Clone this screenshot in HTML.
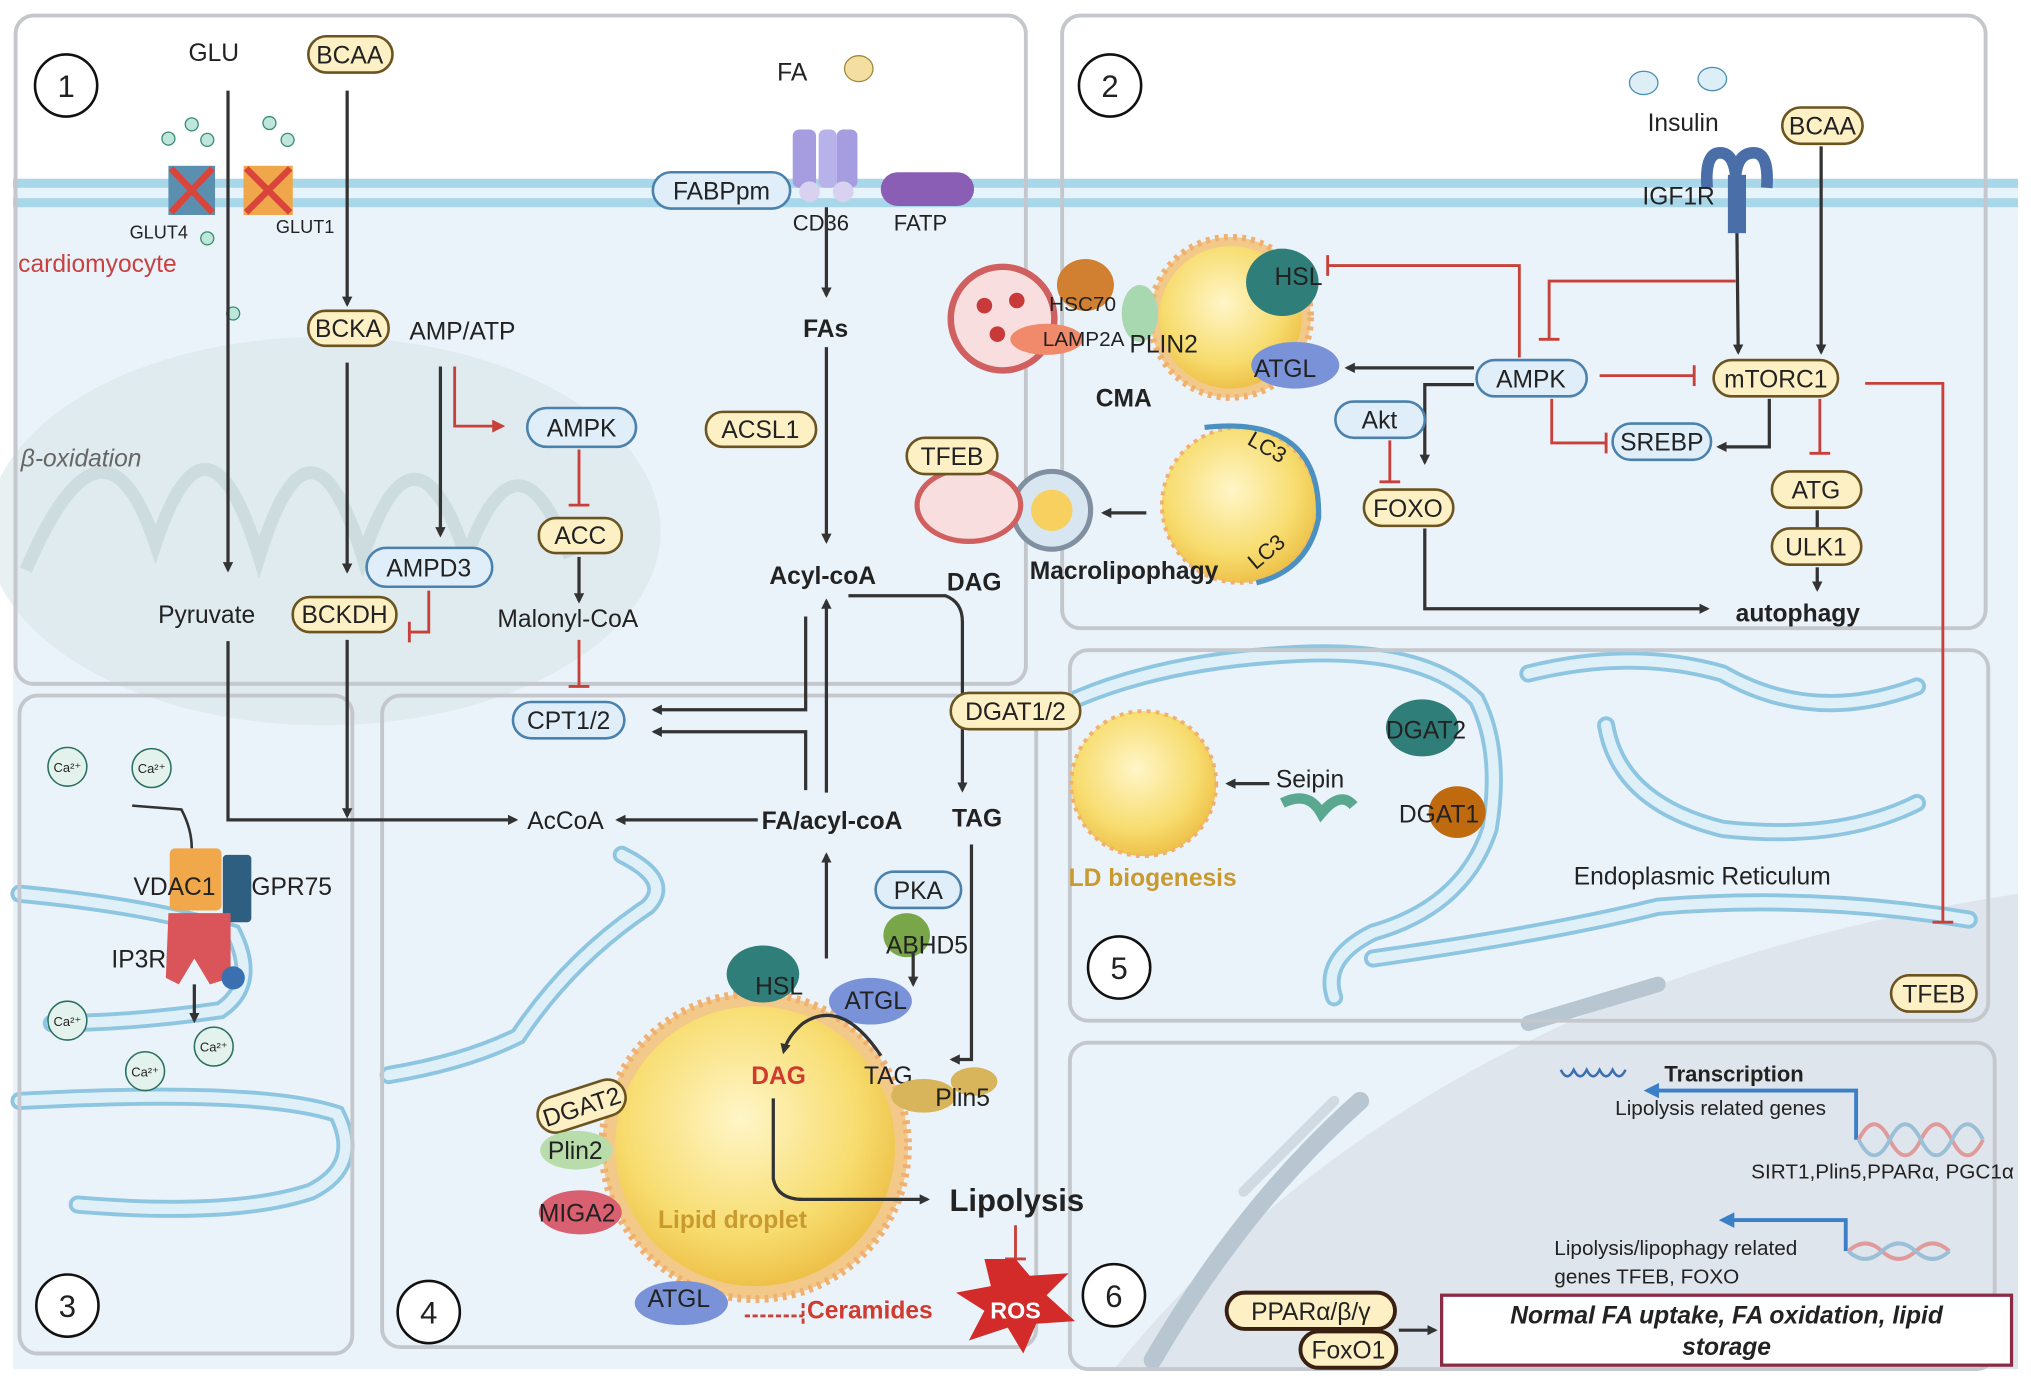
<!DOCTYPE html>
<html><head><meta charset="utf-8"><style>
html,body{margin:0;padding:0;background:#fff;}
svg{display:block;}
text{font-family:"Liberation Sans",Arial,sans-serif;fill:#222;}
.y{fill:#fdf0c4;stroke:#6b5420;stroke-width:2;}
.b{fill:#e0eef9;stroke:#4b82ad;stroke-width:2;}
.pn{fill:none;stroke:#c4c8cc;stroke-width:3;}
.ar{stroke:#333;stroke-width:2.5;fill:none;marker-end:url(#ah);}
.inh{stroke:#c8403a;stroke-width:2.2;fill:none;}
.er{fill:none;stroke:#8ec6e2;stroke-width:14;stroke-linecap:round;}
.er2{fill:none;stroke:#dff0f8;stroke-width:8;stroke-linecap:round;}
</style></head><body>
<svg width="2031" height="1382" viewBox="0 0 1568 1067" xmlns="http://www.w3.org/2000/svg">
<defs>
<marker id="ah" markerWidth="8" markerHeight="8" refX="6" refY="4" orient="auto" markerUnits="userSpaceOnUse"><path d="M0,0 L8,4 L0,8 z" fill="#333"/></marker>
<marker id="ahr" markerWidth="10" markerHeight="10" refX="8" refY="5" orient="auto" markerUnits="userSpaceOnUse"><path d="M0,0 L10,5 L0,10 z" fill="#c8403a"/></marker>
<marker id="ahb" markerWidth="12" markerHeight="12" refX="9" refY="6" orient="auto" markerUnits="userSpaceOnUse"><path d="M0,0 L12,6 L0,12 z" fill="#3b7fc6"/></marker>
<radialGradient id="ld" cx="0.45" cy="0.4" r="0.6"><stop offset="0" stop-color="#fff6c8"/><stop offset="0.7" stop-color="#f7dc6e"/><stop offset="1" stop-color="#eec24a"/></radialGradient>
</defs>
<!-- cell interior -->
<rect x="10" y="155" width="1548" height="902" fill="#ebf3fa"/>
<!-- nucleus -->
<path d="M860,1057 Q1100,760 1558,690 L1558,1057 Z" fill="#dfe5ec"/>
<path d="M890,1050 Q960,930 1050,850" class="er" stroke="#bcc8d2" style="stroke:#b8c6d2"/>
<path d="M960,920 L1030,850" fill="none" stroke="#d0dae3" stroke-width="8" stroke-linecap="round"/>
<path d="M1180,790 L1280,760" fill="none" stroke="#b8c6d2" stroke-width="12" stroke-linecap="round"/>
<!-- mitochondria -->
<ellipse cx="250" cy="410" rx="260" ry="150" fill="#d9e6e8" opacity="0.6"/>
<path d="M20,440 Q80,300 120,420 Q160,300 200,430 Q240,300 280,430 Q320,310 360,430 Q400,320 440,430" fill="none" stroke="#cddcde" stroke-width="10"/>
<!-- membrane -->
<rect x="10" y="138" width="1548" height="22" fill="#a9d7ea"/>
<rect x="10" y="145" width="1548" height="8" fill="#e6f3fa"/>
<!-- ER panel5 -->
<path d="M830,540 Q900,510 1000,505 Q1100,500 1140,540 Q1160,580 1150,640 Q1130,700 1060,720 Q1020,740 1030,770" class="er"/>
<path d="M1180,520 Q1260,500 1330,520 Q1400,560 1480,530 M1240,560 Q1250,620 1330,640 Q1420,650 1480,620 M1060,740 Q1200,720 1280,700 Q1400,690 1520,710" class="er"/>
<path d="M830,540 Q900,510 1000,505 Q1100,500 1140,540 Q1160,580 1150,640 Q1130,700 1060,720 Q1020,740 1030,770 M1180,520 Q1260,500 1330,520 Q1400,560 1480,530 M1240,560 Q1250,620 1330,640 Q1420,650 1480,620 M1060,740 Q1200,720 1280,700 Q1400,690 1520,710" class="er2"/>
<!-- ER panel3/4 -->
<path d="M15,690 Q120,700 180,720 Q200,760 170,780 Q100,790 40,790 M15,850 Q200,840 260,860 Q280,900 240,920 Q180,940 60,930 M300,830 Q360,820 400,800 Q440,740 500,700 Q520,680 480,660" class="er"/>
<path d="M15,690 Q120,700 180,720 Q200,760 170,780 Q100,790 40,790 M15,850 Q200,840 260,860 Q280,900 240,920 Q180,940 60,930 M300,830 Q360,820 400,800 Q440,740 500,700 Q520,680 480,660" class="er2"/>
<!-- panels -->
<rect x="12" y="12" width="780" height="516" rx="14" class="pn"/>
<rect x="820" y="12" width="713" height="473" rx="14" class="pn"/>
<rect x="15" y="537" width="257" height="508" rx="14" class="pn"/>
<rect x="295" y="537" width="505" height="503" rx="14" class="pn"/>
<rect x="826" y="502" width="709" height="286" rx="14" class="pn"/>
<rect x="826" y="805" width="714" height="252" rx="14" class="pn"/>
<!-- numbers -->
<g fill="#fff" stroke="#111" stroke-width="2"><circle cx="51" cy="66" r="24"/><circle cx="857" cy="66" r="24"/><circle cx="52" cy="1008" r="24"/><circle cx="331" cy="1013" r="24"/><circle cx="864" cy="747" r="24"/><circle cx="860" cy="1000" r="24"/></g>
<g font-size="24" text-anchor="middle"><text x="51" y="75">1</text><text x="857" y="75">2</text><text x="52" y="1017">3</text><text x="331" y="1022">4</text><text x="864" y="756">5</text><text x="860" y="1009">6</text></g>

<!-- Panel 1 -->
<text x="165" y="47" font-size="19" text-anchor="middle">GLU</text>
<rect x="238" y="28" width="65" height="28" rx="14" class="y"/><text x="270" y="49" font-size="19" text-anchor="middle">BCAA</text>
<g><rect x="130" y="128" width="36" height="38" fill="#5b8fb0"/><rect x="188" y="128" width="38" height="38" fill="#f0a64a"/>
<path d="M132,130 L164,164 M164,130 L132,164 M190,130 L224,164 M224,130 L190,164" stroke="#d9453a" stroke-width="5"/></g>
<g fill="#bfe6da" stroke="#3a8a78"><circle cx="130" cy="107" r="5"/><circle cx="148" cy="96" r="5"/><circle cx="160" cy="108" r="5"/><circle cx="208" cy="95" r="5"/><circle cx="222" cy="108" r="5"/><circle cx="160" cy="184" r="5"/><circle cx="180" cy="242" r="5"/></g>
<text x="100" y="184" font-size="14">GLUT4</text><text x="213" y="180" font-size="14">GLUT1</text>
<text x="14" y="210" font-size="19" style="fill:#c84040">cardiomyocyte</text>
<text x="16" y="360" font-size="19" font-style="italic" style="fill:#666">β-oxidation</text>
<path d="M176,70 L176,440" class="ar"/>
<path d="M268,70 L268,235" class="ar"/>
<rect x="238" y="240" width="62" height="27" rx="13" class="y"/><text x="269" y="260" font-size="19" text-anchor="middle">BCKA</text>
<text x="316" y="262" font-size="19">AMP/ATP</text>
<path d="M268,280 L268,441" class="ar"/>
<path d="M340,283 L340,413" class="ar"/>
<path d="M351,283 L351,329 L388,329" fill="none" stroke="#c8403a" stroke-width="2.2" marker-end="url(#ahr)"/>
<rect x="407" y="315" width="84" height="30" rx="15" class="b"/><text x="449" y="337" font-size="19" text-anchor="middle">AMPK</text>
<path d="M447,347 L447,390 M439,390 L455,390" class="inh"/>
<rect x="416" y="400" width="64" height="27" rx="13" class="y"/><text x="448" y="420" font-size="19" text-anchor="middle">ACC</text>
<path d="M447,430 L447,464" class="ar"/>
<text x="384" y="484" font-size="19">Malonyl-CoA</text>
<path d="M447,494 L447,530 M439,530 L455,530" class="inh"/>
<rect x="283" y="423" width="97" height="30" rx="15" class="b"/><text x="331" y="445" font-size="19" text-anchor="middle">AMPD3</text>
<text x="122" y="481" font-size="19">Pyruvate</text>
<rect x="226" y="461" width="80" height="27" rx="13" class="y"/><text x="266" y="481" font-size="19" text-anchor="middle">BCKDH</text>
<path d="M331,456 L331,488 L316,488 M316,480 L316,496" class="inh"/>
<path d="M176,495 L176,633 L398,633" class="ar"/>
<path d="M268,494 L268,630" class="ar"/>
<!-- FA -->
<text x="600" y="62" font-size="19">FA</text><ellipse cx="663" cy="53" rx="11" ry="10" fill="#f4dfa0" stroke="#a08a40"/>
<rect x="612" y="100" width="18" height="45" rx="5" fill="#a59de0"/><rect x="632" y="100" width="14" height="45" rx="5" fill="#b8b2ea"/><rect x="646" y="100" width="16" height="45" rx="5" fill="#a59de0"/>
<ellipse cx="625" cy="148" rx="8" ry="8" fill="#d8d2f0"/><ellipse cx="651" cy="148" rx="8" ry="8" fill="#d8d2f0"/>
<rect x="680" y="133" width="72" height="26" rx="13" fill="#8b5eb5"/>
<rect x="504" y="133" width="106" height="28" rx="14" class="b"/><text x="557" y="154" font-size="19" text-anchor="middle">FABPpm</text>
<text x="612" y="178" font-size="17">CD36</text><text x="690" y="178" font-size="17">FATP</text>
<path d="M638,160 L638,228" class="ar"/>
<text x="620" y="260" font-size="19" font-weight="bold">FAs</text>
<path d="M638,268 L638,418" class="ar"/>
<rect x="545" y="318" width="85" height="27" rx="13" class="y"/><text x="587" y="338" font-size="19" text-anchor="middle">ACSL1</text>
<text x="594" y="451" font-size="19" font-weight="bold">Acyl-coA</text>
<text x="731" y="456" font-size="19" font-weight="bold">DAG</text>
<path d="M622,476 L622,548 L505,548" class="ar"/>
<rect x="396" y="542" width="86" height="28" rx="14" class="b"/><text x="439" y="563" font-size="19" text-anchor="middle">CPT1/2</text>
<path d="M622,610 L622,565 L505,565" class="ar"/>
<path d="M638,612 L638,464" class="ar"/>
<path d="M655,460 L730,460 Q743,465 743,480 L743,610" class="ar"/>
<rect x="734" y="535" width="100" height="28" rx="14" class="y"/><text x="784" y="556" font-size="19" text-anchor="middle">DGAT1/2</text>
<text x="407" y="640" font-size="19">AcCoA</text>
<path d="M585,633 L477,633" class="ar"/>
<text x="588" y="640" font-size="19" font-weight="bold">FA/acyl-coA</text>
<text x="735" y="638" font-size="19" font-weight="bold">TAG</text>

<!-- Panel 3 -->
<g fill="#e3f2ec" stroke="#2a7060" stroke-width="1.2"><circle cx="52" cy="592" r="15"/><circle cx="117" cy="593" r="15"/><circle cx="52" cy="788" r="15"/><circle cx="165" cy="808" r="15"/><circle cx="112" cy="827" r="15"/></g>
<g font-size="10" text-anchor="middle"><text x="52" y="596">Ca²⁺</text><text x="117" y="597">Ca²⁺</text><text x="52" y="792">Ca²⁺</text><text x="165" y="812">Ca²⁺</text><text x="112" y="831">Ca²⁺</text></g>
<path d="M102,622 L140,625 Q148,640 148,655" fill="none" stroke="#333" stroke-width="2"/>
<rect x="131" y="655" width="40" height="48" rx="4" fill="#f0a84a"/><rect x="172" y="660" width="22" height="52" rx="3" fill="#2f5f80"/>
<path d="M130,705 L178,705 L178,755 L162,760 L150,740 L138,760 L128,755 Z" fill="#d9555a"/>
<circle cx="180" cy="755" r="9" fill="#3a70b0"/>
<path d="M150,760 L150,788" class="ar"/>
<text x="103" y="691" font-size="19">VDAC1</text><text x="194" y="691" font-size="19">GPR75</text><text x="86" y="747" font-size="19">IP3R</text>

<!-- Panel 4 LD -->
<circle cx="583" cy="885" r="118" fill="#f3c98a" stroke="#f0b070" stroke-width="6" stroke-dasharray="3 4"/>
<circle cx="583" cy="885" r="108" fill="url(#ld)"/>
<text x="508" y="948" font-size="19" font-weight="bold" style="fill:#c99a30">Lipid droplet</text>
<path d="M638,740 L638,660" class="ar"/>
<path d="M750,652 L750,818 L735,818" class="ar"/>
<rect x="676" y="673" width="66" height="28" rx="14" class="b"/><text x="709" y="694" font-size="19" text-anchor="middle">PKA</text>
<ellipse cx="700" cy="722" rx="18" ry="17" fill="#7aa64a"/>
<text x="684" y="736" font-size="19">ABHD5</text>
<ellipse cx="589" cy="752" rx="28" ry="22" fill="#2f7e7a"/><text x="583" y="768" font-size="19">HSL</text>
<ellipse cx="672" cy="773" rx="32" ry="18" fill="#7a93d8"/><text x="652" y="779" font-size="19">ATGL</text>
<path d="M705,735 L705,760" class="ar"/>
<path d="M680,815 Q650,770 620,790 Q608,800 605,812" class="ar"/>
<text x="580" y="837" font-size="19" font-weight="bold" style="fill:#d13a2e">DAG</text>
<text x="667" y="837" font-size="19">TAG</text>
<ellipse cx="713" cy="846" rx="25" ry="13" fill="#d8b45a"/><ellipse cx="752" cy="835" rx="18" ry="11" fill="#d8b45a"/>
<text x="722" y="854" font-size="19">Plin5</text>
<rect x="414" y="840" width="70" height="28" rx="14" class="y" transform="rotate(-18 449 854)"/><text x="449" y="861" font-size="19" text-anchor="middle" transform="rotate(-18 449 854)">DGAT2</text>
<ellipse cx="445" cy="888" rx="28" ry="15" fill="#b8dcaa"/><text x="423" y="895" font-size="19">Plin2</text>
<ellipse cx="448" cy="936" rx="32" ry="17" fill="#d96070"/><text x="416" y="943" font-size="19">MIGA2</text>
<ellipse cx="526" cy="1006" rx="36" ry="17" fill="#7a93d8"/><text x="500" y="1009" font-size="19">ATGL</text>
<path d="M575,1016 L620,1016 M620,1006 L620,1024" class="inh" stroke-dasharray="4 2"/>
<text x="623" y="1018" font-size="19" font-weight="bold" style="fill:#d13a2e">Ceramides</text>
<path d="M597,848 L597,910 Q600,926 620,926 L716,926" class="ar"/>
<text x="733" y="935" font-size="24" font-weight="bold">Lipolysis</text>
<path d="M784,946 L784,972 M776,972 L792,972" class="inh"/>
<path d="M784,972 L795,985 L825,983 L808,1000 L830,1020 L800,1022 L790,1045 L778,1025 L748,1035 L760,1012 L738,998 L765,993 L760,972 Z" fill="#d32a2a"/>
<text x="784" y="1018" font-size="18" font-weight="bold" text-anchor="middle" style="fill:#fff">ROS</text>

<!-- Panel 2 -->
<ellipse cx="1269" cy="64" rx="11" ry="9" fill="#ddeef6" stroke="#4a90b0"/><ellipse cx="1322" cy="61" rx="11" ry="9" fill="#ddeef6" stroke="#4a90b0"/>
<text x="1272" y="101" font-size="19">Insulin</text>
<rect x="1376" y="83" width="62" height="28" rx="14" class="y"/><text x="1407" y="104" font-size="19" text-anchor="middle">BCAA</text>
<path d="M1318,145 Q1316,118 1328,118 Q1338,118 1340,135 Q1342,118 1354,118 Q1366,118 1364,145" fill="none" stroke="#4a6fa8" stroke-width="9"/>
<rect x="1334" y="135" width="14" height="45" fill="#4a6fa8"/>
<text x="1268" y="158" font-size="19">IGF1R</text>
<path d="M1341,180 L1342,272" class="ar"/>
<path d="M1406,113 L1406,272" class="ar"/>
<rect x="1323" y="278" width="96" height="28" rx="14" class="y"/><text x="1371" y="299" font-size="19" text-anchor="middle">mTORC1</text>
<path d="M1340,217 L1196,217 L1196,262 M1188,262 L1204,262" class="inh"/>
<path d="M1235,290 L1308,290 M1308,282 L1308,298" class="inh"/>
<rect x="1140" y="278" width="85" height="28" rx="14" class="b"/><text x="1182" y="299" font-size="19" text-anchor="middle">AMPK</text>
<path d="M1173,276 L1173,205 L1025,205 M1025,197 L1025,213" class="inh"/>
<path d="M1138,284 L1040,284" class="ar"/>
<path d="M1138,297 L1100,297 L1100,357" class="ar"/>
<path d="M1198,308 L1198,342 L1240,342 M1240,334 L1240,350" class="inh"/>
<rect x="1245" y="327" width="76" height="28" rx="14" class="b"/><text x="1283" y="348" font-size="19" text-anchor="middle">SREBP</text>
<path d="M1366,308 L1366,345 L1327,345" class="ar"/>
<path d="M1405,308 L1405,350 M1397,350 L1413,350" class="inh"/>
<rect x="1368" y="364" width="69" height="28" rx="14" class="y"/><text x="1402" y="385" font-size="19" text-anchor="middle">ATG</text>
<path d="M1403,394 L1403,408" stroke="#333" stroke-width="2.5"/>
<rect x="1368" y="408" width="69" height="28" rx="14" class="y"/><text x="1402" y="429" font-size="19" text-anchor="middle">ULK1</text>
<path d="M1403,438 L1403,455" class="ar"/>
<text x="1340" y="480" font-size="19" font-weight="bold">autophagy</text>
<rect x="1031" y="310" width="69" height="28" rx="14" class="b"/><text x="1065" y="331" font-size="19" text-anchor="middle">Akt</text>
<path d="M1073,340 L1073,372 M1065,372 L1081,372" class="inh"/>
<rect x="1053" y="378" width="69" height="28" rx="14" class="y"/><text x="1087" y="399" font-size="19" text-anchor="middle">FOXO</text>
<path d="M1100,408 L1100,470 L1318,470" class="ar"/>
<path d="M1440,296 L1500,296 L1500,712 M1492,712 L1508,712" class="inh"/>
<!-- CMA -->
<circle cx="950" cy="245" r="62" fill="#f3c98a" stroke="#f0b070" stroke-width="5" stroke-dasharray="3 4"/>
<circle cx="950" cy="245" r="55" fill="url(#ld)"/>
<circle cx="774" cy="246" r="40" fill="#f8dede" stroke="#d06060" stroke-width="5"/>
<g fill="#c83a3a"><circle cx="760" cy="236" r="6"/><circle cx="785" cy="232" r="6"/><circle cx="770" cy="258" r="6"/><circle cx="790" cy="262" r="6"/></g>
<ellipse cx="838" cy="220" rx="22" ry="20" fill="#d08030"/>
<ellipse cx="808" cy="262" rx="28" ry="12" fill="#f08a6a"/>
<ellipse cx="880" cy="242" rx="14" ry="22" fill="#a8d8b0"/>
<text x="810" y="240" font-size="16">HSC70</text><text x="805" y="267" font-size="16">LAMP2A</text><text x="872" y="272" font-size="19">PLIN2</text>
<ellipse cx="990" cy="218" rx="28" ry="26" fill="#2f7e7a"/><text x="984" y="220" font-size="19">HSL</text>
<ellipse cx="1000" cy="282" rx="34" ry="18" fill="#7a93d8"/><text x="968" y="291" font-size="19">ATGL</text>
<text x="846" y="314" font-size="19" font-weight="bold">CMA</text>
<!-- macrolipophagy -->
<circle cx="957" cy="390" r="60" fill="url(#ld)" stroke="#f0b070" stroke-width="3" stroke-dasharray="3 4"/>
<path d="M930,330 Q1020,320 1018,400 Q1010,440 970,450" fill="none" stroke="#4a90c0" stroke-width="4"/>
<text x="960" y="350" font-size="17" transform="rotate(30 975 350)">LC3</text>
<text x="962" y="430" font-size="17" transform="rotate(-40 980 425)">LC3</text>
<path d="M885,396 L852,396" class="ar"/>
<circle cx="812" cy="394" r="30" fill="#d8e6f2" stroke="#8090a0" stroke-width="4"/>
<circle cx="812" cy="394" r="16" fill="#f7d060"/>
<ellipse cx="748" cy="390" rx="40" ry="28" fill="#f8dede" stroke="#d06060" stroke-width="4"/>
<rect x="700" y="338" width="70" height="28" rx="14" class="y"/><text x="735" y="359" font-size="19" text-anchor="middle">TFEB</text>
<text x="795" y="447" font-size="19" font-weight="bold">Macrolipophagy</text>

<!-- Panel 5 -->
<circle cx="883" cy="605" r="56" fill="url(#ld)" stroke="#f0b070" stroke-width="3" stroke-dasharray="3 4"/>
<text x="825" y="684" font-size="19" font-weight="bold" style="fill:#c99a30">LD biogenesis</text>
<path d="M980,605 L948,605" class="ar"/>
<text x="985" y="608" font-size="19">Seipin</text>
<path d="M990,620 Q1010,610 1020,628 Q1035,610 1045,622" fill="none" stroke="#5aa890" stroke-width="8"/>
<ellipse cx="1098" cy="562" rx="28" ry="22" fill="#2f7e7a"/><text x="1070" y="570" font-size="19">DGAT2</text>
<ellipse cx="1125" cy="627" rx="22" ry="20" fill="#c06a10"/><text x="1080" y="635" font-size="19">DGAT1</text>
<text x="1215" y="683" font-size="19">Endoplasmic Reticulum</text>
<rect x="1460" y="753" width="66" height="28" rx="14" class="y"/><text x="1493" y="774" font-size="19" text-anchor="middle">TFEB</text>

<!-- Panel 6 -->
<path d="M1205,826 q5,10 10,0 q5,10 10,0 q5,10 10,0 q5,10 10,0 q5,10 10,0" fill="none" stroke="#3b6fb0" stroke-width="2"/>
<text x="1285" y="835" font-size="17" font-weight="bold">Transcription</text>
<path d="M1433,880 L1433,842 L1272,842" fill="none" stroke="#3b7fc6" stroke-width="3" marker-end="url(#ahb)"/>
<text x="1247" y="861" font-size="16">Lipolysis related genes</text>
<path d="M1435,880 q12,-24 24,0 q12,24 24,0 q12,-24 24,0 q12,24 24,0" fill="none" stroke="#e09a9a" stroke-width="3"/>
<path d="M1435,880 q12,24 24,0 q12,-24 24,0 q12,24 24,0 q12,-24 24,0" fill="none" stroke="#9ac0d8" stroke-width="3"/>
<text x="1352" y="910" font-size="16">SIRT1,Plin5,PPARα, PGC1α</text>
<path d="M1425,966 L1425,942 L1330,942" fill="none" stroke="#3b7fc6" stroke-width="3" marker-end="url(#ahb)"/>
<path d="M1427,966 q13,-12 26,0 q13,12 26,0 q13,-12 26,0" fill="none" stroke="#e09a9a" stroke-width="3"/>
<path d="M1427,966 q13,12 26,0 q13,-12 26,0 q13,12 26,0" fill="none" stroke="#9ac0d8" stroke-width="3"/>
<text x="1200" y="969" font-size="16">Lipolysis/lipophagy related</text>
<text x="1200" y="991" font-size="16">genes   TFEB, FOXO</text>
<rect x="947" y="998" width="130" height="28" rx="14" class="y" style="stroke:#3a2010;stroke-width:3"/><text x="1012" y="1019" font-size="19" text-anchor="middle">PPARα/β/γ</text>
<rect x="1004" y="1028" width="74" height="28" rx="14" class="y" style="stroke:#3a2010;stroke-width:3"/><text x="1041" y="1049" font-size="19" text-anchor="middle">FoxO1</text>
<path d="M1080,1027 L1108,1027" class="ar"/>
<rect x="1113" y="1000" width="440" height="54" fill="#fff" stroke="#8a2a44" stroke-width="2.5"/>
<text x="1333" y="1022" font-size="19" font-weight="bold" font-style="italic" text-anchor="middle">Normal FA uptake, FA oxidation, lipid</text>
<text x="1333" y="1046" font-size="19" font-weight="bold" font-style="italic" text-anchor="middle">storage</text>
</svg>
</body></html>
